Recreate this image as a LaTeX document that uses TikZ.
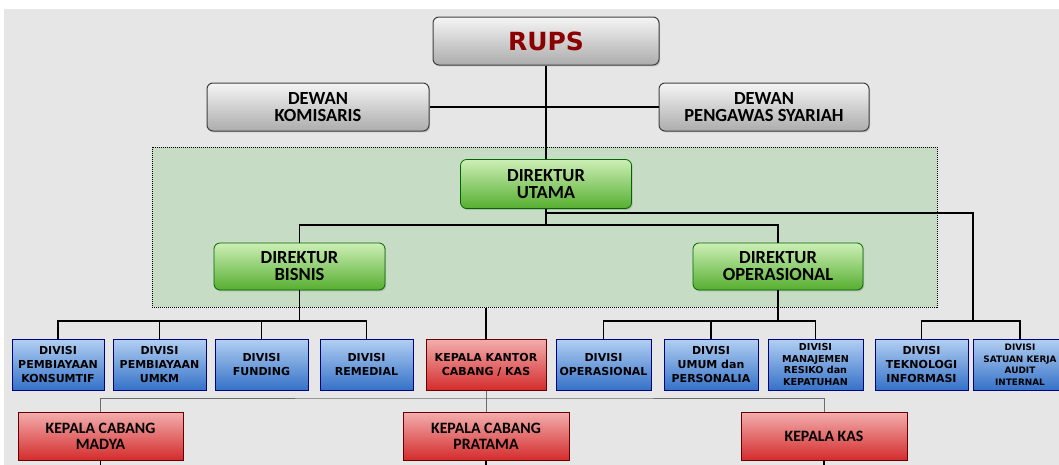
\documentclass[tikz,border=0pt]{standalone}
\usepackage{fontspec}
\setmainfont{Carlito}
\newfontfamily\divfont{DejaVu Sans}
\usetikzlibrary{positioning, calc, shadows}

\definecolor{bgGray}{HTML}{E6E6E6}
\definecolor{grpFill}{HTML}{C6DCC4}
\definecolor{rupsRed}{HTML}{8B0000}
\definecolor{blueTop}{HTML}{B2CFF2}
\definecolor{blueBot}{HTML}{3572C8}
\definecolor{redTop}{HTML}{F3AEAE}
\definecolor{redBot}{HTML}{D42C2C}
\definecolor{greenTop}{HTML}{CDEFB6}
\definecolor{greenBot}{HTML}{56AE30}

\begin{document}
\begin{tikzpicture}[
    x=1pt, y=-1pt,
    shade/.style={drop shadow={opacity=0.35, shadow xshift=1.2pt, shadow yshift=-1.4pt}},
    board/.style={rectangle, rounded corners=6pt, draw=black!75, line width=1pt, shade,
                  top color=gray!8, bottom color=gray!65, align=center,
                  font=\bfseries\fontsize{18.5}{17}\selectfont},
    dir/.style={rectangle, rounded corners=6pt, draw=green!40!black, line width=0.8pt, shade,
                top color=greenTop, bottom color=greenBot, align=center,
                font=\bfseries\fontsize{18.5}{17}\selectfont},
    div/.style={rectangle, draw=blue!50!black, line width=1pt, shade,
                top color=blueTop, bottom color=blueBot, align=center,
                minimum width=93, minimum height=51,
                font=\divfont\bfseries\fontsize{11}{14}\selectfont},
    head/.style={rectangle, draw=red!40!black, line width=1pt, shade,
                 top color=redTop, bottom color=redBot, align=center,
                 font=\bfseries\fontsize{15.8}{16}\selectfont},
    link/.style={line width=1.6pt, black},
    feed/.style={line width=0.8pt, gray!85!black}
]
    \useasboundingbox (0,0) rectangle (1059,464);
    \clip (0,0) rectangle (1059,464);
    \fill[bgGray] (4,9) rectangle (1060,465);

    % --- Direksi region ---
    \node[draw=black, densely dotted, line width=1pt, fill=grpFill,
          minimum width=785, minimum height=160] (grp) at (544.5,227) {};

    % --- top level ---
    \node[board, minimum width=226, minimum height=48] (rups) at (546,41)
      {\divfont\bfseries\fontsize{25}{26}\selectfont\color{rupsRed}RUPS};
    \node[board, minimum width=222, minimum height=48] (kom) at (318,107) {DEWAN\\KOMISARIS};
    \node[board, minimum width=210, minimum height=48] (dps) at (764,107) {DEWAN\\PENGAWAS SYARIAH};

    % --- directors ---
    \node[dir, minimum width=171, minimum height=49] (du) at (546,184) {DIREKTUR\\UTAMA};
    \node[dir, minimum width=171, minimum height=47] (db) at (299.5,266.5) {DIREKTUR\\BISNIS};
    \node[dir, minimum width=170, minimum height=47] (do) at (778,266.5) {DIREKTUR\\OPERASIONAL};

    % --- divisions ---
    \node[div, minimum width=92] (dv1) at (58,364.5)  {DIVISI\\PEMBIAYAAN\\KONSUMTIF};
    \node[div] (dv2) at (159.5,364.5) {DIVISI\\PEMBIAYAAN\\UMKM};
    \node[div] (dv3) at (261.5,364.5) {DIVISI\\FUNDING};
    \node[div] (dv4) at (366.5,364.5) {DIVISI\\REMEDIAL};
    \node[div, minimum width=120, draw=red!40!black, top color=redTop,
          bottom color=redBot] (kkc) at (486,364.5) {KEPALA KANTOR\\CABANG / KAS};
    \node[div, minimum width=95] (dv6) at (603.5,364.5) {DIVISI\\OPERASIONAL};
    \node[div, minimum width=94] (dv7) at (711,364.5)   {DIVISI\\UMUM dan\\PERSONALIA};
    \node[div, minimum width=95, font=\divfont\bfseries\fontsize{9.6}{11.5}\selectfont]
      (dv8) at (815.5,364.5) {DIVISI\\MANAJEMEN\\RESIKO dan\\KEPATUHAN};
    \node[div] (dv9) at (921.5,364.5) {DIVISI\\TEKNOLOGI\\INFORMASI};
    \node[div, minimum width=94, font=\divfont\bfseries\fontsize{8.9}{11.5}\selectfont]
      (dv10) at (1020,364.5) {DIVISI\\SATUAN KERJA\\AUDIT\\INTERNAL};

    % --- branch heads ---
    \node[head, minimum width=165, minimum height=48] (mad) at (100.5,436) {KEPALA CABANG\\MADYA};
    \node[head, minimum width=166, minimum height=48] (pra) at (486,436)   {KEPALA CABANG\\PRATAMA};
    \node[head, minimum width=166, minimum height=48] (kas) at (824,436)   {KEPALA KAS};

    % --- connectors ---
    \coordinate (jUt) at (546,225);
    \coordinate (jRt) at (973,213);
    \coordinate (jIt) at (973,321);
    \coordinate (jBs) at (299.5,321);
    \coordinate (jOp) at (778,321);
    \coordinate (jKc) at (486,398);
    \coordinate (eMad) at (100.5,470);
    \coordinate (ePra) at (486,470);
    \coordinate (eKas) at (824,470);

    \draw[link] (rups.south) -- (du.north);
    \draw[link] (kom.east) -- (dps.west);
    \draw[link] (du.south) -- (jUt);
    \draw[link] (db.north) |- (jUt) -| (do.north);
    \draw[link] (du.south |- jRt) -- (jRt) -- (jIt);
    \draw[link] (dv9.north) |- (jIt) -| (dv10.north);
    \draw[link] (db.south) -- (jBs);
    \draw[link] (dv1.north) |- (jBs) -| (dv4.north);
    \draw[link] (dv2.north) -- (dv2.north |- jBs);
    \draw[link] (dv3.north) -- (dv3.north |- jBs);
    \draw[link] (do.south) -- (jOp);
    \draw[link] (dv6.north) |- (jOp) -| (dv8.north);
    \draw[link] (dv7.north) -- (dv7.north |- jOp);
    \draw[link] (kkc.north) -- (kkc.north |- grp.south);

    \draw[feed] (kkc.south) -- (pra.north);
    \draw[feed] (mad.north) |- (jKc) -| (kas.north);
    \draw[link] (mad.south) -- (eMad);
    \draw[link] (pra.south) -- (ePra);
    \draw[link] (kas.south) -- (eKas);
\end{tikzpicture}
\end{document}
